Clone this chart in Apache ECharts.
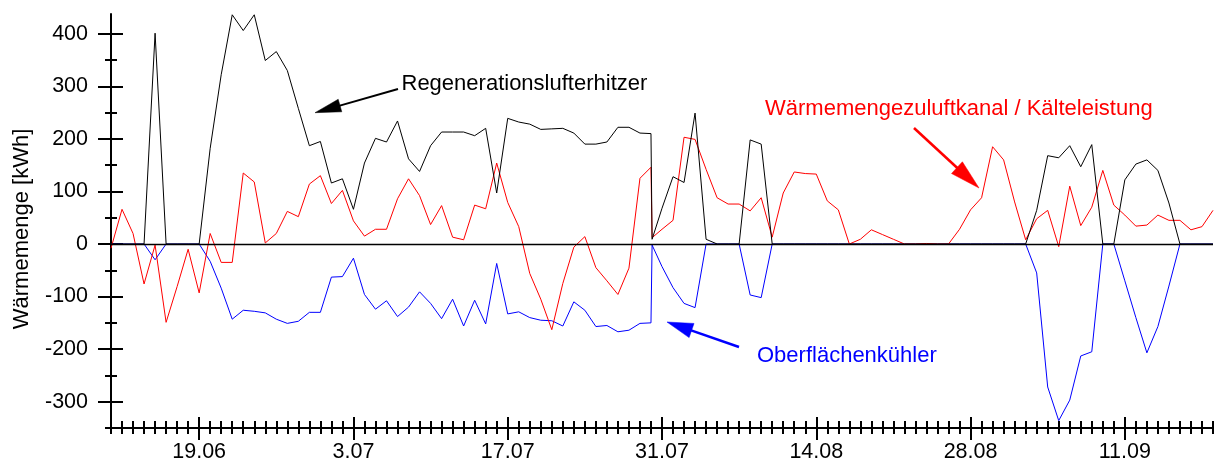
<!DOCTYPE html>
<html><head><meta charset="utf-8">
<script src="https://cdn.jsdelivr.net/npm/echarts@6/dist/echarts.min.js"></script>
<style>html,body{margin:0;padding:0;background:#fff}#c{width:1217px;height:468px}</style>
</head><body><div id="c"></div>
<script>
// Day offsets from 11.06 (day 0) to 19.09 (day 100); 49.1 = second reading on 30.07
const days = [0,1,2,3,4,5,6,7,8,9,10,11,12,13,14,15,16,17,18,19,20,21,22,23,24,25,26,27,28,29,
  30,31,32,33,34,35,36,37,38,39,40,41,42,43,44,45,46,47,48,49,49.1,
  50,51,52,53,54,55,56,57,58,59,60,61,62,63,64,65,66,67,68,69,70,71,72,73,74,75,76,77,78,79,
  80,81,82,83,84,85,86,87,88,89,90,91,92,93,94,95,96,97,98,99,100];

const regenValues = [0,0,0,0,401,0,0,0,0,182,
  322,436,406,436,349,366,330,258,187,195,
  116,124,66,154,201,194,234,162,138,187,
  213,213,213,206,220,97,239,232,228,218,
  219,220,211,190,190,194,222,222,211,210,
  9,
  68,128,117,249,9,0,0,0,198,190,
  0,0,0,0,0,0,0,0,0,0,
  0,0,0,0,0,0,0,0,0,0,
  0,0,0,0,64,168,164,187,147,189,
  0,0,122,152,160,140,78,0,0,0,0];

const zuluftValues = [-8,66,20,-76,-2,-149,-81,-10,-93,20,
  -35,-35,135,118,2,20,62,52,114,130,
  77,102,44,15,28,28,86,124,92,37,
  73,13,8,74,67,154,79,33,-56,-105,
  -163,-75,-6,14,-45,-70,-96,-46,125,146,
  12,
  28,45,203,199,142,88,76,76,63,88,
  13,97,137,134,133,82,65,0,9,27,
  18,9,0,0,1,0,0,28,65,88,
  185,160,80,8,48,64,-5,110,35,70,
  140,74,55,34,36,55,45,45,27,33,64];

const kuehlerValues = [0,0,0,0,-30,0,0,0,0,-33,
  -84,-143,-126,-128,-131,-143,-151,-147,-130,-130,
  -63,-62,-27,-96,-124,-108,-138,-120,-91,-113,
  -142,-105,-156,-107,-152,-37,-133,-129,-140,-145,
  -146,-156,-110,-126,-157,-155,-167,-164,-151,-150,
  -2,
  -43,-83,-113,-121,0,0,0,0,-97,-102,
  0,0,0,0,0,0,0,0,0,0,
  0,0,0,0,0,0,0,0,0,0,
  0,0,0,0,-55,-272,-336,-297,-213,-205,
  0,0,-70,-140,-207,-157,-80,0,0,0,0];

const tickDays = [8,22,36,50,64,78,92];
const tickLabels = ['19.06','3.07','17.07','31.07','14.08','28.08','11.09'];
const yLabelValues = [-300,-200,-100,0,100,200,300,400];
const yMinorValues = [-350,-250,-150,-50,50,150,250,350];

const minorDays = [];
for (let d = 0; d <= 100; d++) minorDays.push(d);

const FONT = 'Liberation Sans';
const tickLine = {color:'#000', width:2};

function xAx(extra) {
  return Object.assign({type:'value', min:0, max:100, position:'bottom', splitLine:{show:false},
    axisLine:{show:false, onZero:false}, axisLabel:{show:false}, axisTick:{show:false}}, extra);
}
function yAx(extra) {
  return Object.assign({type:'value', min:-350, max:437.5, position:'left', splitLine:{show:false},
    axisLine:{show:false, onZero:false}, axisLabel:{show:false}, axisTick:{show:false}}, extra);
}

const xAxes = [
  xAx({axisLine:{show:true, onZero:false, lineStyle:{color:'#000', width:2}},
       axisTick:{show:true, customValues:minorDays, length:6, inside:false, lineStyle:tickLine},
       axisLabel:{show:true, customValues:tickDays, margin:13, fontSize:21.5, color:'#000', fontFamily:FONT,
         formatter:(v)=>{const i = tickDays.indexOf(Math.round(v)); return i>=0 ? tickLabels[i] : '';}}}),
  xAx({axisTick:{show:true, customValues:minorDays, length:7, inside:true, lineStyle:tickLine}}),
  xAx({axisTick:{show:true, customValues:tickDays, length:12, inside:false, lineStyle:tickLine}}),
  xAx({axisTick:{show:true, customValues:tickDays, length:11, inside:true, lineStyle:tickLine}})
];
const yAxes = [
  yAx({axisLine:{show:true, onZero:false, lineStyle:{color:'#000', width:2}},
       axisTick:{show:true, customValues:yMinorValues, length:6, inside:false, lineStyle:tickLine},
       axisLabel:{show:true, customValues:yLabelValues, margin:23, fontSize:21.5, color:'#000', fontFamily:FONT}}),
  yAx({axisTick:{show:true, customValues:yMinorValues, length:6, inside:true, lineStyle:tickLine}}),
  yAx({axisTick:{show:true, customValues:yLabelValues, length:13, inside:false, lineStyle:tickLine}}),
  yAx({axisTick:{show:true, customValues:yLabelValues, length:12, inside:true, lineStyle:tickLine}})
];

function pairs(vals) { return days.map((d, i) => [d, vals[i]]); }

function arrow(tail, tip, headLen, headW, color, w) {
  const dx = tail[0]-tip[0], dy = tail[1]-tip[1];
  const L = Math.hypot(dx, dy), ux = dx/L, uy = dy/L;
  const bx = tip[0]+ux*headLen, by = tip[1]+uy*headLen;
  const px = -uy*headW/2, py = ux*headW/2;
  return [
    {type:'polyline', silent:true, shape:{points:[tail, [bx-ux*2, by-uy*2]]}, style:{stroke:color, lineWidth:w, fill:null}},
    {type:'polygon', silent:true, shape:{points:[tip, [bx+px, by+py], [bx-px, by-py]]}, style:{fill:color, stroke:color, lineWidth:0.5}}
  ];
}

const chart = echarts.init(document.getElementById('c'), null, {renderer:'canvas'});
chart.setOption({
  animation:false,
  backgroundColor:'#fff',
  grid:{left:111, right:4, top:14, bottom:40, containLabel:false},
  xAxis:xAxes,
  yAxis:yAxes,
  series:[
    {name:'Oberflächenkühler', type:'line', data:pairs(kuehlerValues), symbol:'none',
     lineStyle:{color:'#0000ff', width:1}, itemStyle:{color:'#0000ff'}, z:2},
    {name:'Wärmemengezuluftkanal / Kälteleistung', type:'line', data:pairs(zuluftValues), symbol:'none',
     lineStyle:{color:'#ff0000', width:1}, itemStyle:{color:'#ff0000'}, z:3},
    {name:'Regenerationslufterhitzer', type:'line', data:pairs(regenValues), symbol:'none',
     lineStyle:{color:'#000000', width:1}, itemStyle:{color:'#000'}, z:4,
     markLine:{silent:true, symbol:'none', label:{show:false}, animation:false,
       lineStyle:{color:'#000', width:1.3, type:'solid'}, data:[{yAxis:0}]}}
  ],
  graphic:[
    {type:'text', x:22, y:229, rotation:Math.PI/2, silent:true,
     style:{text:'Wärmemenge [kWh]', font:'22px "Liberation Sans"', fill:'#000', align:'center', verticalAlign:'middle'}},
    {type:'text', x:401.5, y:83.5, silent:true,
     style:{text:'Regenerationslufterhitzer', font:'22px "Liberation Sans"', fill:'#000', align:'left', verticalAlign:'middle'}},
    {type:'text', x:765, y:109, silent:true,
     style:{text:'Wärmemengezuluftkanal / Kälteleistung', font:'22px "Liberation Sans"', fill:'#ff0000', align:'left', verticalAlign:'middle'}},
    {type:'text', x:757, y:356, silent:true,
     style:{text:'Oberflächenkühler', font:'22px "Liberation Sans"', fill:'#0000ff', align:'left', verticalAlign:'middle'}},
    ...arrow([398, 89], [315, 112.7], 26, 13, '#000', 2),
    ...arrow([914, 128], [979, 188], 30, 16, '#ff0000', 2.5),
    ...arrow([739, 347], [667, 322], 26, 15, '#0000ff', 2.5)
  ]
});
</script>
</body></html>
